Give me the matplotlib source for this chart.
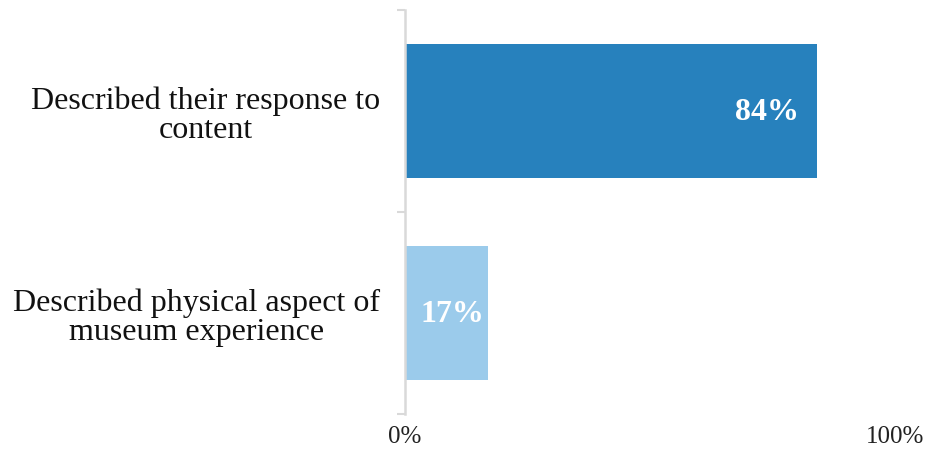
import matplotlib.pyplot as plt
from matplotlib.ticker import FixedLocator

categories = ['Described their response to\ncontent',
              'Described physical aspect of\nmuseum experience']
values = [0.84, 0.17]
colors = ['#2781bd', '#9bcbeb']

plt.rcParams['font.family'] = ['Liberation Serif', 'DejaVu Serif']

fig = plt.figure(figsize=(9.3, 4.6), dpi=100)
ax = fig.add_axes([405 / 930, 1 - 415 / 460, 490 / 930, 404 / 460])

ypos = list(range(len(categories)))
ax.barh(ypos, values, height=0.66, color=colors)
ax.set_xlim(0, 1)
ax.set_ylim(len(categories) - 0.5, -0.5)

for y, v in zip(ypos, values):
    if v > 0.3:
        ax.annotate('{:.0%}'.format(v), (v, y), xytext=(-13, 0), textcoords='offset points',
                    ha='right', va='center', color='white', fontsize=23, fontweight='bold')
    else:
        ax.text(v / 2 + 0.012, y, '{:.0%}'.format(v), ha='center', va='center',
                color='white', fontsize=23, fontweight='bold')

# category boundaries get the tick marks, labels sit at the centres
ax.yaxis.set_major_locator(FixedLocator([-0.5, 0.5, 1.5]))
ax.yaxis.set_minor_locator(FixedLocator(ypos))
ax.set_yticklabels([], minor=False)
ax.set_yticklabels(categories, minor=True, multialignment='center', fontsize=23,
                   linespacing=1.0, color='#111111')
ax.tick_params(axis='y', which='major', length=6, width=1.5, color='#d9d9d9')
ax.tick_params(axis='y', which='minor', length=0, pad=18)

ax.set_xticks([0, 1])
ax.set_xticklabels(['0%', '100%'], fontsize=18)
ax.tick_params(axis='x', length=0, pad=8, labelcolor='#222222')

for s in ['top', 'right', 'bottom']:
    ax.spines[s].set_visible(False)
ax.spines['left'].set_color('#d9d9d9')
ax.spines['left'].set_linewidth(1.8)

fig.savefig('out.png', dpi=100)
